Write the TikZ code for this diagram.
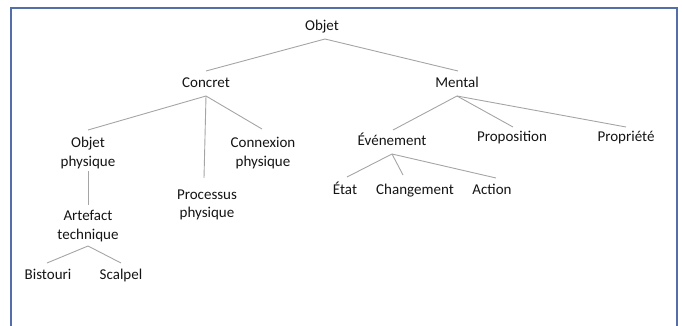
\documentclass[tikz,border=0pt]{standalone}
\usepackage{fontspec}
\setmainfont{Carlito}
\usetikzlibrary{calc}
\definecolor{framecol}{RGB}{84,110,170}
\definecolor{linkcol}{RGB}{165,165,165}
\definecolor{txtcol}{RGB}{20,20,20}
\begin{document}
\begin{tikzpicture}[x=1pt,y=-1pt,
  lbl/.style={inner sep=0pt, text=txtcol, font=\fontsize{15}{18.5}\selectfont, align=center},
  one/.style={lbl, text height=10pt, text depth=3.5pt},
  link/.style={draw=linkcol, line width=0.9pt}]
\useasboundingbox (0,0) rectangle (682,326);
\draw[framecol, line width=1.5pt] (11,330) -- (11,8) -- (677,8) -- (677,330);

\node[one] (objet) at (322,27) {Objet};
\node[one] (concret) at (206,84) {Concret};
\node[one] (mental) at (457,84) {Mental};
\node[lbl] (objphys) at (88,153) {Objet\\physique};
\node[lbl] (connexion) at (263,153) {Connexion\\physique};
\node[lbl] (processus) at (207,205) {Processus\\physique};
\node[lbl] (artefact) at (88,226) {Artefact\\technique};
\node[one] (bistouri) at (48,276) {Bistouri};
\node[one] (scalpel) at (121,276) {Scalpel};
\node[one] (evenement) at (392,142) {Événement};
\node[one] (proposition) at (512,138) {Proposition};
\node[one] (propriete) at (626,138) {Propriété};
\node[one] (etat) at (345,191) {État};
\node[one] (changement) at (415,191) {Changement};
\node[one] (action) at (492,191) {Action};

\draw[link] ($(objet)+(3,12)$) -- ($(concret)+(0,-13)$);
\draw[link] ($(objet)+(3,12)$) -- ($(mental)+(1,-13)$);
\draw[link] ($(concret)+(0,12)$) -- ($(objphys)+(0,-23)$);
\draw[link] ($(concret)+(0,12)$) -- ($(processus)+(-3,-27)$);
\draw[link] ($(concret)+(0,12)$) -- ($(connexion)+(-1,-24)$);
\draw[link] ($(objphys)+(0,18)$) -- ($(artefact)+(0,-21)$);
\draw[link] ($(artefact)+(0,20)$) -- ($(bistouri)+(-1,-13)$);
\draw[link] ($(artefact)+(0,20)$) -- ($(scalpel)+(0,-13)$);
\draw[link] ($(mental)+(0,12)$) -- ($(evenement)+(1,-12)$);
\draw[link] ($(mental)+(0,12)$) -- ($(proposition)+(1,-11)$);
\draw[link] ($(mental)+(0,12)$) -- ($(propriete)+(0,-11)$);
\draw[link] ($(evenement)+(0,12)$) -- ($(etat)+(2,-14)$);
\draw[link] ($(evenement)+(0,12)$) -- ($(changement)+(-12,-16)$);
\draw[link] ($(evenement)+(0,12)$) -- ($(action)+(4,-13)$);
\end{tikzpicture}
\end{document}
